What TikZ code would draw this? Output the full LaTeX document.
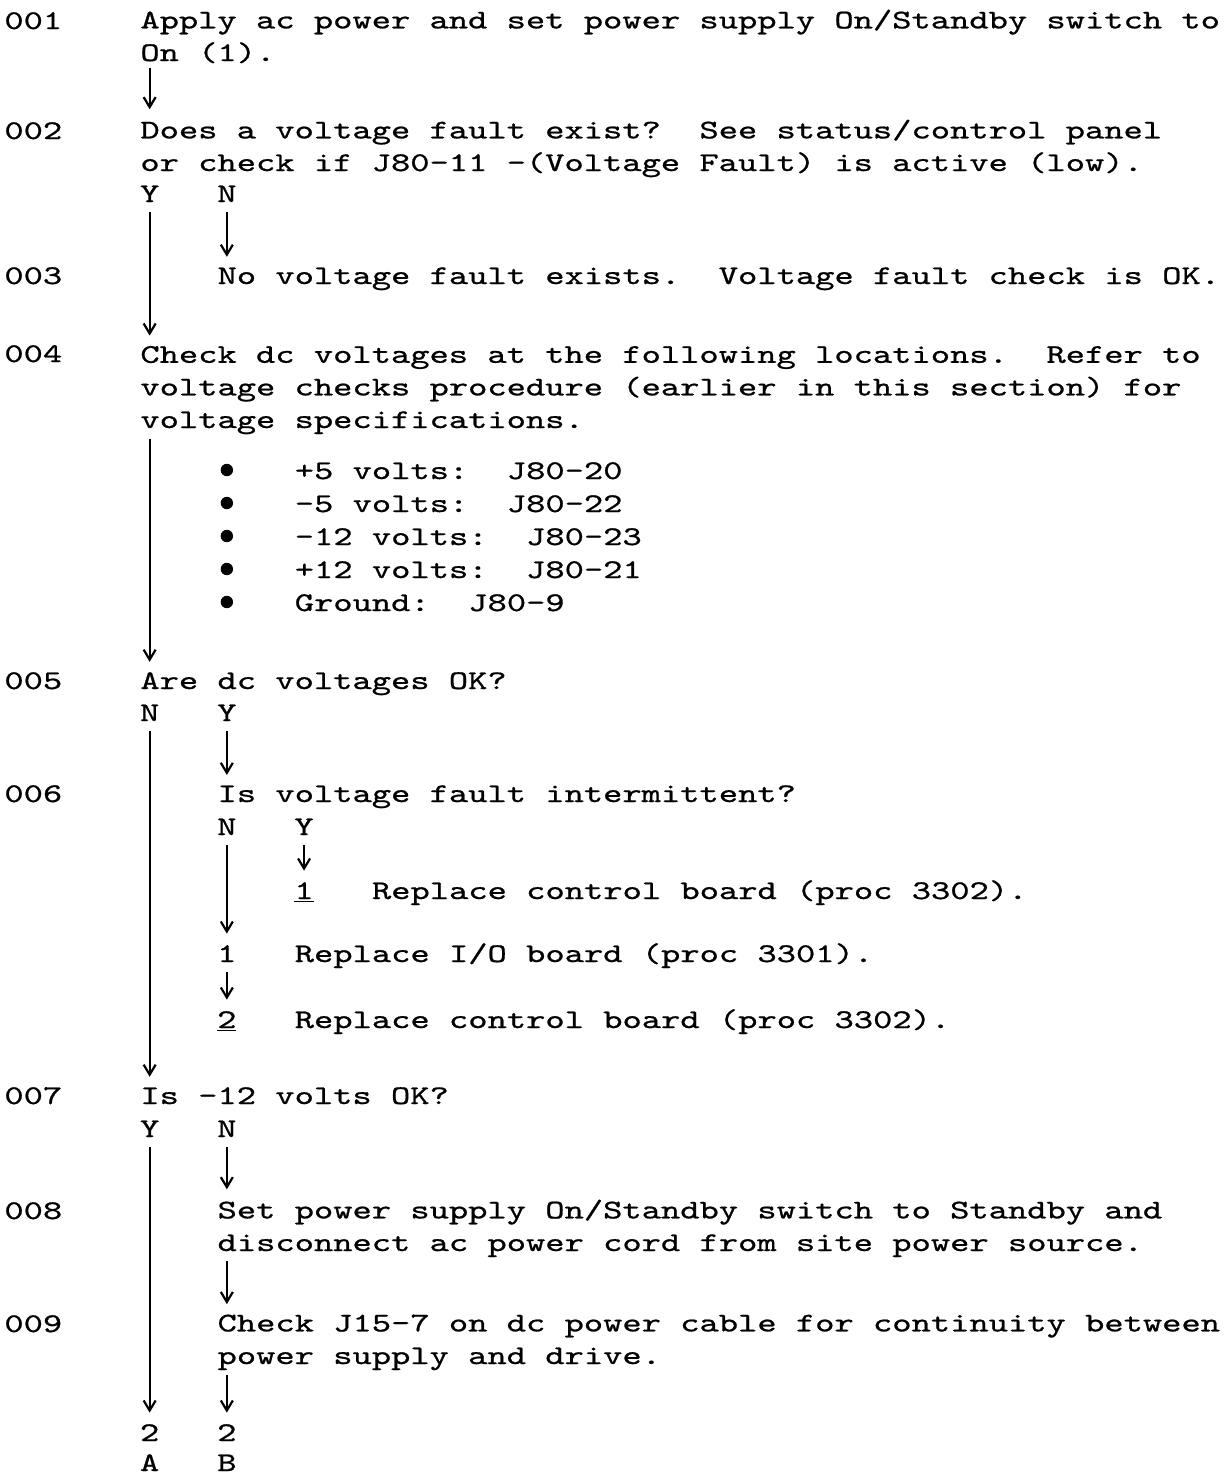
\documentclass[tikz,border=0pt]{standalone}
\usepackage{fontspec}
\setmonofont{lmmono10-regular.otf}[FakeStretch=1.36,FakeBold=0.8]
\usetikzlibrary{arrows.meta}

\tikzset{
  txt/.style={font=\fontsize{13.5}{16.3}\selectfont\ttfamily\frenchspacing, inner sep=0pt, anchor=base west, align=left},
  lbl/.style={font=\fontsize{13.5}{16.3}\selectfont\ttfamily, inner sep=0pt, anchor=base, text height=9pt, text depth=3pt},
  flow/.style={-{Straight Barb[length=5pt,width=6pt]}, line width=1.1pt, shorten <=2pt, shorten >=5pt},
  dot/.style={circle, fill, inner sep=0pt, minimum size=6.2pt}
}

\begin{document}
\begin{tikzpicture}[x=0.5pt, y=-0.5pt]
			\useasboundingbox (0,0) rectangle (1232,1474);

			% Step numbers
			\node (n1) [txt] at (4,29) {001};
			\node (n2) [txt] at (4,139) {002};
			\node (n3) [txt] at (4,284) {003};
			\node (n4) [txt] at (4,362) {004};
			\node (n5) [txt] at (4,689) {005};
			\node (n6) [txt] at (4,802) {006};
			\node (n7) [txt] at (4,1104) {007};
			\node (n8) [txt] at (4,1219) {008};
			\node (n9) [txt] at (4,1332) {009};

			% Nodes (multi-line nodes sit on their last line)
			\node (s1) [txt] at (140,61) {Apply ac power and set power supply On/Standby switch to\\On (1).};
			\node (s2) [txt] at (140,171) {Does a voltage fault exist?~~See status/control panel\\or check if J80-11 -(Voltage Fault) is active (low).};
			\node (yes2) [lbl] at (149.65,202) {Y};
			\node (no2) [lbl] at (226.85,202) {N};
			\node (s3) [txt] at (217.2,284) {No voltage fault exists.~~Voltage fault check is OK.};
			\node (s4) [txt] at (140,428) {Check dc voltages at the following locations.~~Refer to\\voltage checks procedure (earlier in this section) for\\voltage specifications.};
			\node (dot1) [dot] at (226.85,470) {};
			\node (dot2) [dot] at (226.85,503) {};
			\node (dot3) [dot] at (226.85,536) {};
			\node (dot4) [dot] at (226.85,569) {};
			\node (dot5) [dot] at (226.85,602) {};
			\node (volts) [txt, font=\fontsize{13.5}{16.5}\selectfont\ttfamily] at (294.4,611) {+5 volts:~~J80-20\\-5 volts:~~J80-22\\-12 volts:~~J80-23\\+12 volts:~~J80-21\\Ground:~~J80-9};
			\node (s5) [txt] at (140,689) {Are dc voltages OK?};
			\node (no5) [lbl] at (149.65,721) {N};
			\node (yes5) [lbl] at (226.85,721) {Y};
			\node (s6) [txt] at (217.2,802) {Is voltage fault intermittent?};
			\node (no6) [lbl] at (226.85,835) {N};
			\node (yes6) [lbl] at (304.05,835) {Y};
			\node (r1n) [lbl] at (304.05,899) {\underline{1}};
			\node (r1t) [txt] at (371.6,899) {Replace control board (proc 3302).};
			\node (r2n) [lbl] at (226.85,962) {1};
			\node (r2t) [txt] at (294.4,962) {Replace I/O board (proc 3301).};
			\node (r3n) [lbl] at (226.85,1028) {\underline{2}};
			\node (r3t) [txt] at (294.4,1028) {Replace control board (proc 3302).};
			\node (s7) [txt] at (140,1104) {Is -12 volts OK?};
			\node (yes7) [lbl] at (149.65,1137) {Y};
			\node (no7) [lbl] at (226.85,1137) {N};
			\node (s8) [txt] at (217.2,1251) {Set power supply On/Standby switch to Standby and\\disconnect ac power cord from site power source.};
			\node (s9) [txt] at (217.2,1364) {Check J15-7 on dc power cable for continuity between\\power supply and drive.};
			\node (twoA) [lbl] at (149.65,1441) {2};
			\node (twoB) [lbl] at (226.85,1441) {2};
			\node (letA) [lbl, text depth=0pt] at (149.65,1471) {A};
			\node (letB) [lbl, text depth=0pt] at (226.85,1471) {B};

			% Edges
			\draw[flow] (s1.south -| yes2) -- (s2.north -| yes2);
			\draw[flow] (yes2.south) -- (yes2 |- s4.north);
			\draw[flow] (no2.south) -- (no2 |- s3.north);
			\draw[flow] (s4.south -| no5) -- (s5.north -| no5);
			\draw[flow] (yes5.south) -- (yes5 |- s6.north);
			\draw[flow] (no5.south) -- (no5 |- s7.north);
			\draw[flow] (yes6.south) -- (r1n.north);
			\draw[flow] (no6.south) -- (r2n.north);
			\draw[flow] (r2n.south) -- (r3n.north);
			\draw[flow] (yes7.south) -- (twoA.north);
			\draw[flow] (no7.south) -- (no7 |- s8.north);
			\draw[flow] (s8.south -| twoB) -- (s9.north -| twoB);
			\draw[flow] (s9.south -| twoB) -- (twoB.north);

\end{tikzpicture}
\end{document}
